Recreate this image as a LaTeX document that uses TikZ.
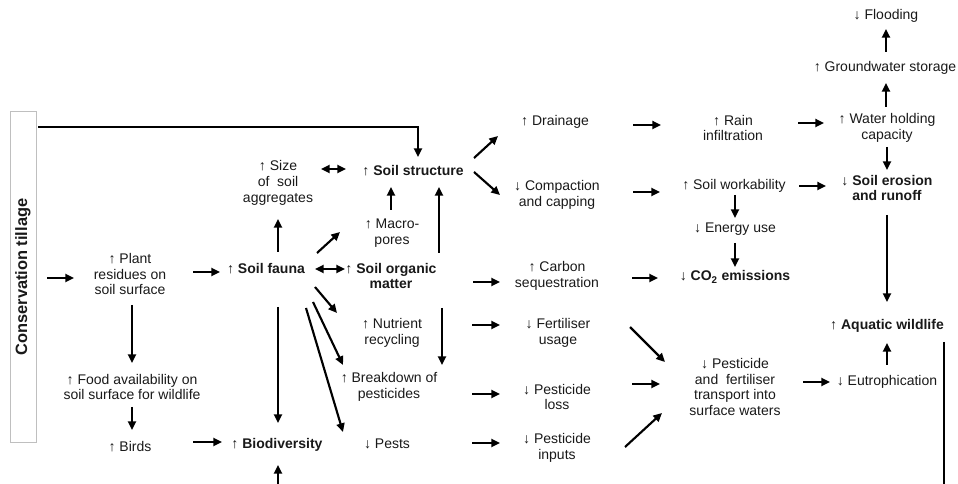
\documentclass[tikz,border=0pt]{standalone}
\usepackage{fontspec}
\setmainfont{Liberation Sans}
\usetikzlibrary{arrows.meta,calc}
\begin{document}
\begin{tikzpicture}[x=0.75pt,y=-0.75pt,
  txt/.style={align=center,font=\fontsize{10.5}{11.9}\selectfont,inner sep=0pt,text=black!90},
  bld/.style={align=center,font=\fontsize{10.5}{11.9}\selectfont\bfseries,inner sep=0pt,text=black!90},
  arr/.style={line width=1.6pt,-{Triangle[length=6.5pt,width=6pt]}},
  darr/.style={line width=1.6pt,{Triangle[length=6.5pt,width=6pt]}-{Triangle[length=6.5pt,width=6pt]}},
  thinline/.style={line width=1.1pt}]
\useasboundingbox (0,0) rectangle (958,484);

% side box
\node[draw=black!25,line width=0.6pt,rotate=90,minimum width=248.25pt,minimum height=19.5pt,inner sep=0pt,
      font=\fontsize{12.3}{14}\selectfont\bfseries,text=black!90] (ct) at (23,277) {Conservation tillage};

% nodes
\node[txt] (plant) at (130,274) {↑ Plant\\residues on\\soil surface};
\node[bld] (fauna) at (266,269) {{\mdseries ↑} Soil fauna};
\node[txt] (size) at (278,183) {↑ Size\\of \ soil\\aggregates};
\node[bld] (struct) at (413,171) {{\mdseries ↑} Soil structure};
\node[txt] (macro) at (392,233) {↑ Macro-\\pores};
\node[bld] (som) at (391,276) {{\mdseries ↑} Soil organic\\matter};
\node[txt] (nutr) at (392,333) {↑ Nutrient\\recycling};
\node[txt] (bd) at (389,387) {↑ Breakdown of\\pesticides};
\node[txt] (pests) at (387,444) {↓ Pests};
\node[txt] (food) at (132,387) {↑ Food availability on\\soil surface for wildlife};
\node[txt] (birds) at (130,447) {↑ Birds};
\node[bld] (biod) at (277,445) {{\mdseries ↑} Biodiversity};
\node[txt] (drain) at (555,122) {↑ Drainage};
\node[txt] (comp) at (557,195) {↓ Compaction\\and capping};
\node[txt] (carbon) at (557,276) {↑ Carbon\\sequestration};
\node[txt] (fert) at (558,333) {↓ Fertiliser\\usage};
\node[txt] (loss) at (557,397) {↓ Pesticide\\loss};
\node[txt] (inputs) at (557,448) {↓ Pesticide\\inputs};
\node[txt] (rain) at (733,128) {↑ Rain\\infiltration};
\node[txt] (work) at (734,186) {↑ Soil workability};
\node[txt] (energy) at (735,229) {↓ Energy use};
\node[bld] (co2) at (735,277) {{\mdseries ↓} CO\textsubscript{2} emissions};
\node[txt] (transport) at (735,387) {↓ Pesticide\\and \ fertiliser\\transport into\\surface waters};
\node[txt] (flood) at (886,16) {↓ Flooding};
\node[txt] (ground) at (885,68) {↑ Groundwater storage};
\node[txt] (water) at (887,128) {↑ Water holding\\capacity};
\node[bld] (erosion) at (887,188) {{\mdseries ↓} Soil erosion\\and runoff};
\node[bld] (aquatic) at (887,326) {{\mdseries ↑} Aquatic wildlife};
\node[txt] (eutro) at (887,382) {↓ Eutrophication};

\coordinate (bot1) at (278,484);
\coordinate (bot2) at (944,484);

% connectors
\draw[arr] ($(ct)+(24,1)$) -- ($(plant)+(-56,4)$);
\draw[arr] ($(plant)+(63,-2)$) -- ($(fauna)+(-46,3)$);
\draw[arr] ($(fauna)+(12,-17)$) -- ($(size)+(0,36)$);
\draw[darr] ($(size)+(43,-14)$) -- ($(struct)+(-67,-2)$);
\draw[arr] ($(ct)+(15,-150)$) -| ($(struct)+(5,-14)$);
\draw[arr] ($(fauna)+(12,38)$) -- ($(biod)+(1,-22)$);
\draw[arr] (bot1) -- ($(biod)+(1,20)$);
\draw[arr] ($(plant)+(2,31)$) -- ($(food)+(0,-24)$);
\draw[arr] ($(food)+(0,20)$) -- ($(birds)+(2,-17)$);
\draw[arr] ($(birds)+(63,-5)$) -- ($(biod)+(-55,-3)$);
\draw[darr] ($(fauna)+(49,0)$) -- ($(som)+(-46,-7)$);
\draw[arr] ($(fauna)+(51,-16)$) -- ($(macro)+(-52,-1)$);
\draw[arr] ($(macro)+(-1,-23)$) -- ($(struct)+(-22,16)$);
\draw[arr] ($(som)+(48,-23)$) -- ($(struct)+(26,16)$);
\draw[arr] ($(struct)+(61,-13)$) -- ($(drain)+(-57,14)$);
\draw[arr] ($(struct)+(61,1)$) -- ($(comp)+(-57,0)$);
\draw[arr] ($(som)+(82,6)$) -- ($(carbon)+(-57,6)$);
\draw[arr] ($(fauna)+(49,18)$) -- ($(nutr)+(-55,-20)$);
\draw[arr] ($(fauna)+(47,33)$) -- ($(bd)+(-46,-22)$);
\draw[arr] ($(fauna)+(40,39)$) -- ($(pests)+(-44,-12)$);
\draw[arr] ($(som)+(51,32)$) -- ($(bd)+(53,-22)$);
\draw[arr] ($(nutr)+(80,-8)$) -- ($(fert)+(-58,-8)$);
\draw[arr] ($(bd)+(83,7)$) -- ($(loss)+(-57,-3)$);
\draw[arr] ($(pests)+(85,-1)$) -- ($(inputs)+(-57,-5)$);
\draw[arr] ($(drain)+(78,3)$) -- ($(rain)+(-72,-3)$);
\draw[arr] ($(rain)+(65,-5)$) -- ($(water)+(-63,-5)$);
\draw[arr] ($(water)+(-1,-21)$) -- ($(ground)+(1,15)$);
\draw[arr] ($(ground)+(1,-16)$) -- ($(flood)+(0,13)$);
\draw[arr] ($(water)+(0,19)$) -- ($(erosion)+(0,-18)$);
\draw[arr] ($(comp)+(76,-3)$) -- ($(work)+(-74,6)$);
\draw[arr] ($(work)+(65,0)$) -- ($(erosion)+(-61,-2)$);
\draw[arr] ($(work)+(1,9)$) -- ($(energy)+(0,-11)$);
\draw[arr] ($(energy)+(0,14)$) -- ($(co2)+(0,-10)$);
\draw[arr] ($(carbon)+(75,2)$) -- ($(co2)+(-77,1)$);
\draw[arr] ($(erosion)+(0,27)$) -- ($(aquatic)+(0,-24)$);
\draw[arr] ($(fert)+(72,-6)$) -- ($(transport)+(-70,-25)$);
\draw[arr] ($(loss)+(75,-13)$) -- ($(transport)+(-75,-3)$);
\draw[arr] ($(inputs)+(68,-1)$) -- ($(transport)+(-73,26)$);
\draw[arr] ($(transport)+(68,-5)$) -- ($(eutro)+(-57,0)$);
\draw[arr] ($(eutro)+(0,-17)$) -- ($(aquatic)+(0,17)$);
\draw[thinline] ($(aquatic)+(57,16)$) -- (bot2);
\end{tikzpicture}
\end{document}
